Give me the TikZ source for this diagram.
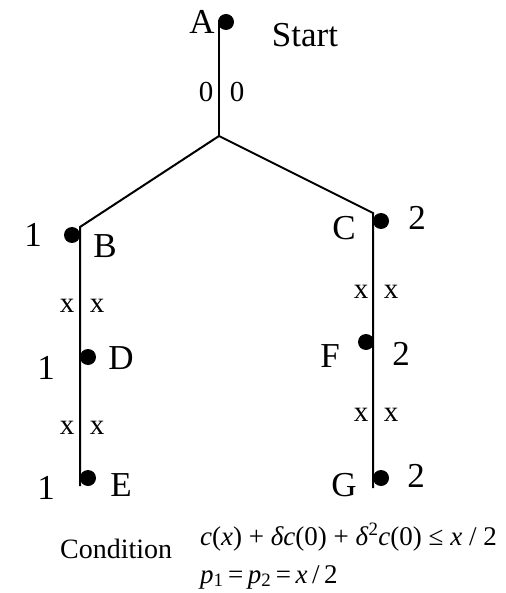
\documentclass[tikz,border=0pt]{standalone}
\usepackage{fontspec}
\setmainfont{Liberation Serif}
\usetikzlibrary{positioning}

\begin{document}
\begin{tikzpicture}[
  x=1pt,
  y=-1pt,
  dot/.style={
    circle,
    fill=black,
    inner sep=0pt,
    minimum size=16pt
  },
  lbl/.style={
    inner sep=0pt,
    font=\fontsize{35}{37}\selectfont
  },
  move/.style={
    inner sep=0pt,
    font=\fontsize{29}{31}\selectfont
  },
  cond/.style={
    inner sep=0pt,
    font=\fontsize{27}{29}\selectfont
  },
  branch/.style={
    draw=black,
    line width=2pt,
    line join=miter
  }
]
\useasboundingbox (0,0) rectangle (505,593);

% tree lines
\coordinate (topA) at (219,20);
\coordinate (fork) at (219,136);
\coordinate (topB) at (80,227);
\coordinate (endE) at (80,486);
\coordinate (topC) at (373,213);
\coordinate (endG) at (373,488);

\draw[branch] (topA) -- (fork);
\draw[branch] (fork) -- (topB) -- (endE);
\draw[branch] (fork) -- (topC) -- (endG);

% decision points
\node[dot] (A) at (226,22) {};
\node[dot] (B) at (72,235) {};
\node[dot] (D) at (88,357) {};
\node[dot] (E) at (88,478) {};
\node[dot] (C) at (381,221) {};
\node[dot] (F) at (366,342) {};
\node[dot] (G) at (381,478) {};

\node[lbl] (Alab) at (202,22) {A};
\node[lbl] (start) at (305,35) {Start};
\node[lbl] (Blab) at (105,246) {B};
\node[lbl] (Dlab) at (121,358) {D};
\node[lbl] (Elab) at (121,485) {E};
\node[lbl] (Clab) at (344,228) {C};
\node[lbl] (Flab) at (330,356) {F};
\node[lbl] (Glab) at (344,485) {G};

% payoffs
\node[lbl] (payB) at (33,235) {1};
\node[lbl] (payD) at (46,368) {1};
\node[lbl] (payE) at (46,488) {1};
\node[lbl] (payC) at (417,218) {2};
\node[lbl] (payF) at (401,354) {2};
\node[lbl] (payG) at (416,476) {2};

% moves
\node[move] (mA1) at (206,92) {0};
\node[move] (mA2) at (237,92) {0};
\node[move] (mB1) at (67,306) {x};
\node[move] (mB2) at (97,306) {x};
\node[move] (mD1) at (67,428) {x};
\node[move] (mD2) at (97,428) {x};
\node[move] (mC1) at (361,292) {x};
\node[move] (mC2) at (391,292) {x};
\node[move] (mF1) at (361,415) {x};
\node[move] (mF2) at (391,415) {x};

% condition
\node[cond, font=\fontsize{28}{30}\selectfont, anchor=base west] (condlab) at (60,558) {Condition};
\node[cond, anchor=base west] (eq1) at (200,545)
  {\textit{c}(\textit{x}) + \textit{δc}(0) + \textit{δ}\textsuperscript{2}\textit{c}(0) ≤ \textit{x} / 2};
\node[cond, anchor=base west] (eq2) at (200,583)
  {\textit{p}\textsubscript{1}\,=\,\textit{p}\textsubscript{2}\,=\,\textit{x}\,/\,2};

\end{tikzpicture}
\end{document}
